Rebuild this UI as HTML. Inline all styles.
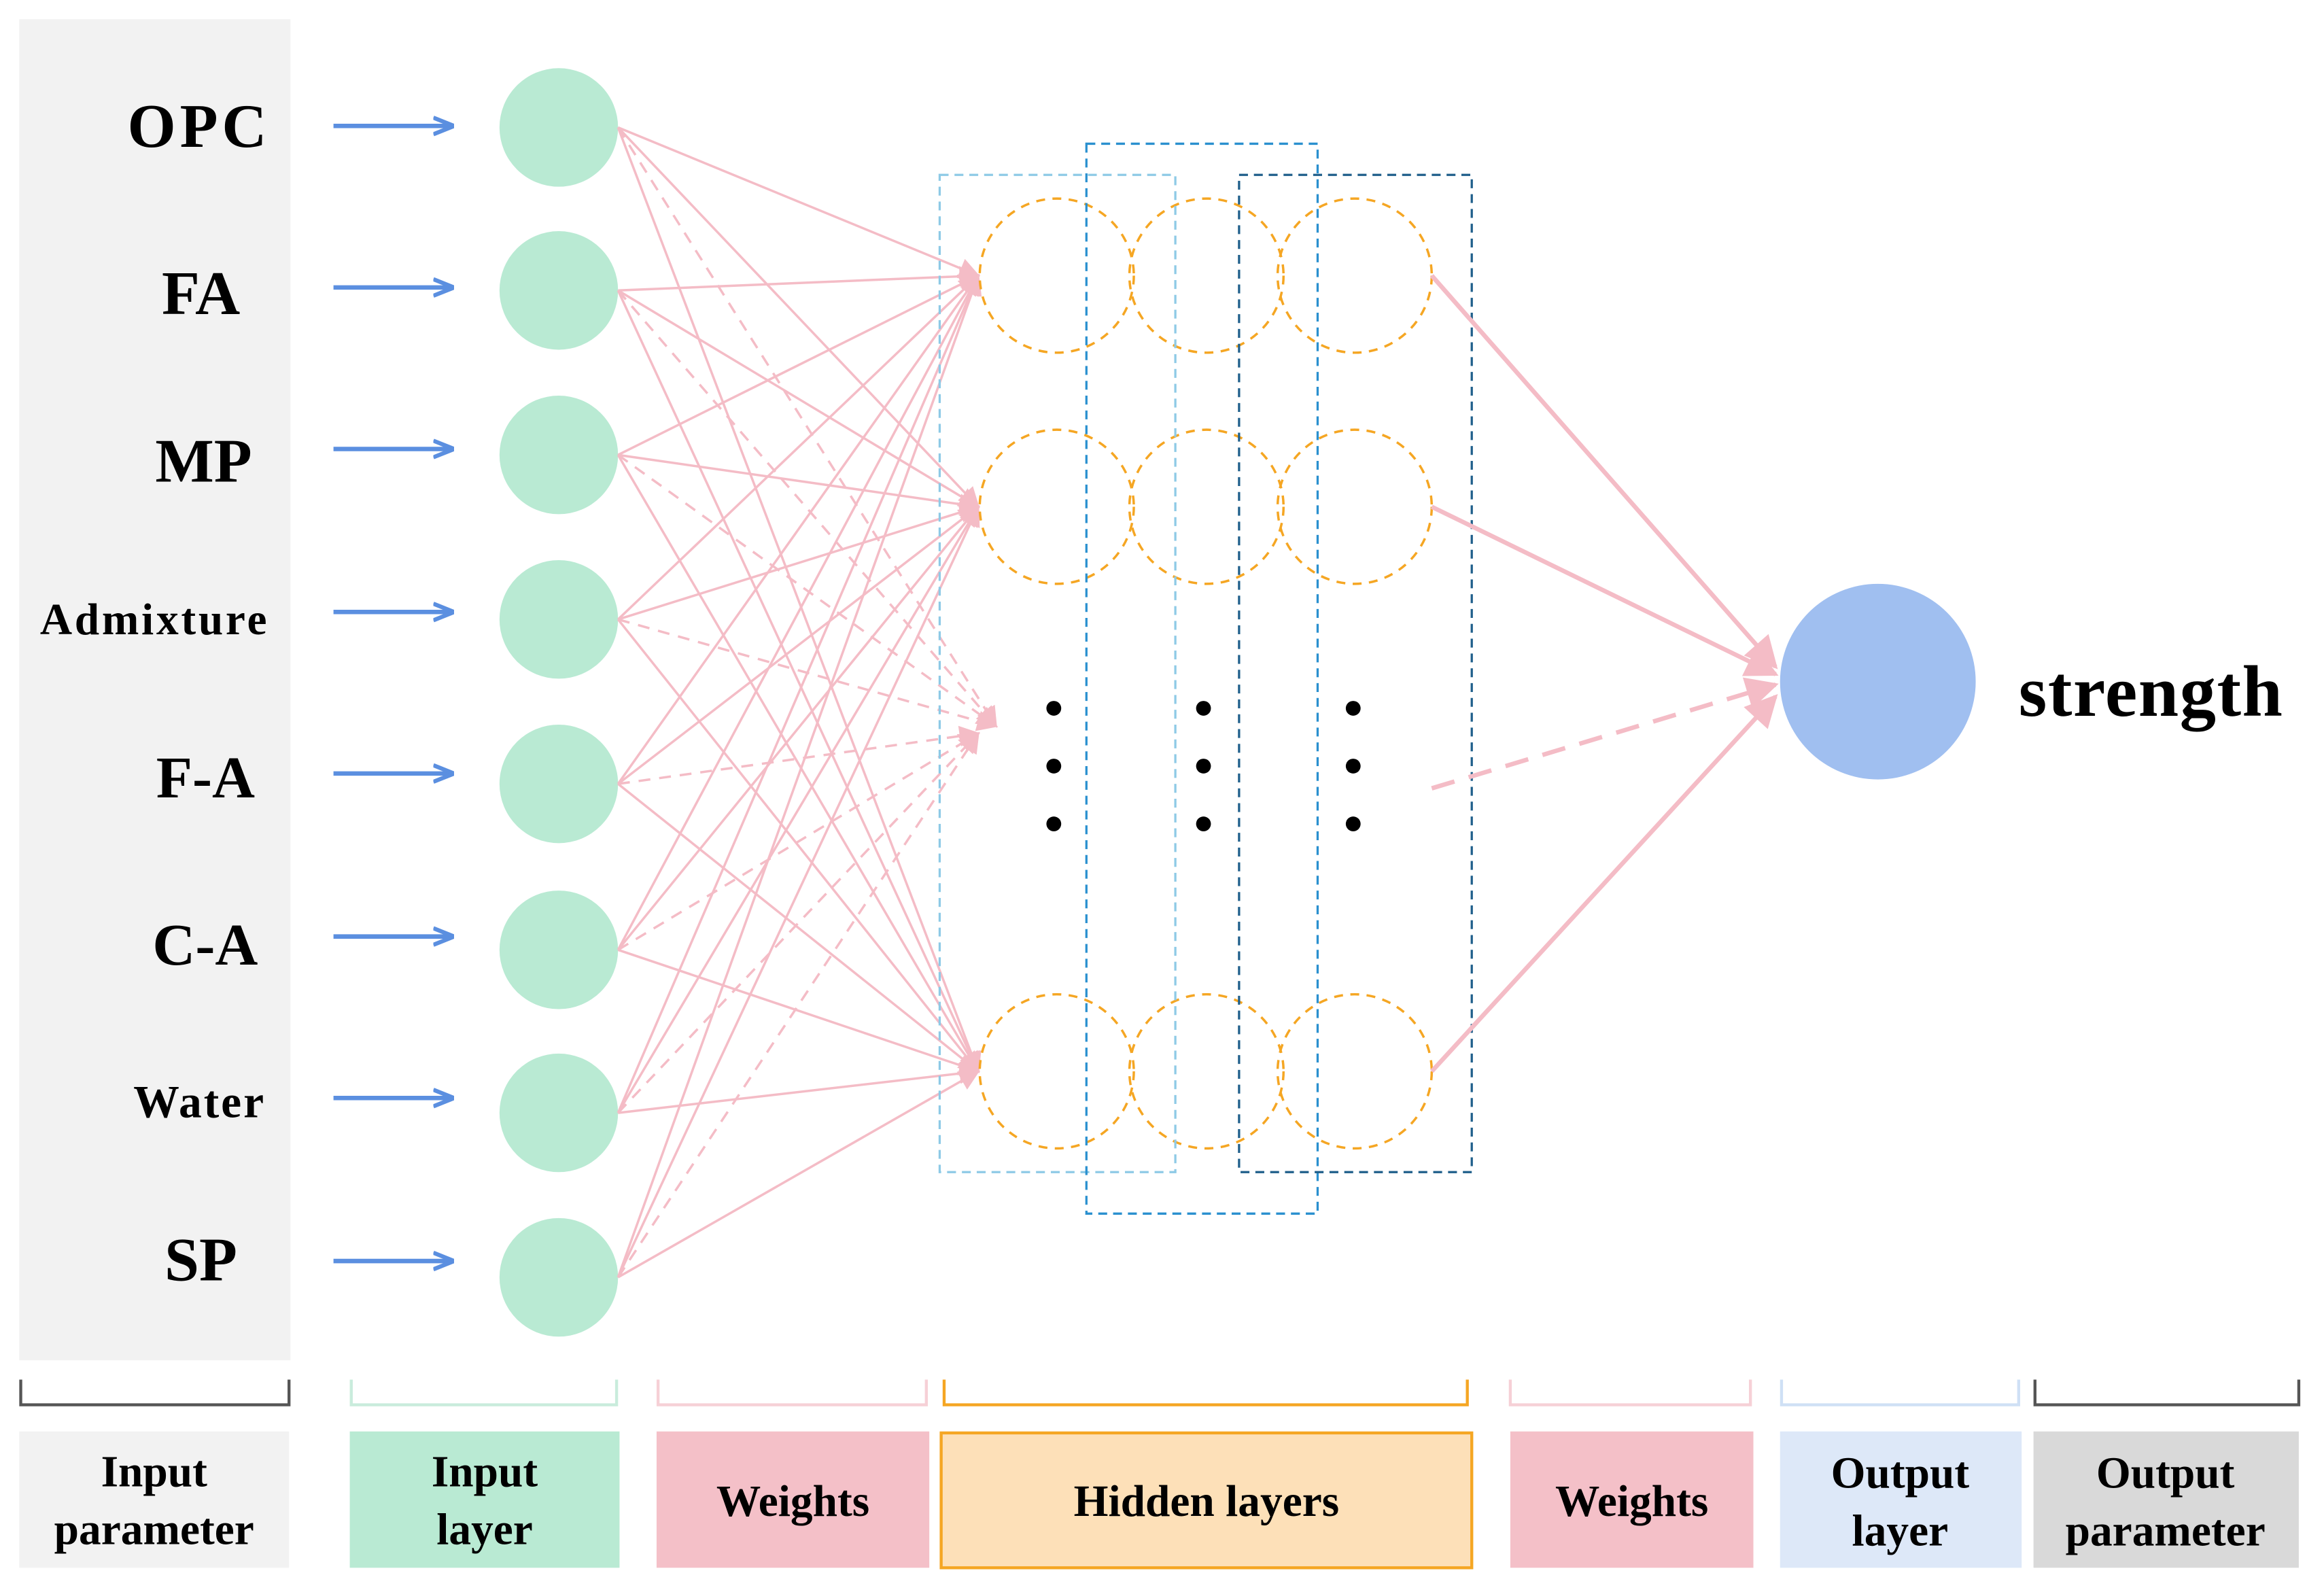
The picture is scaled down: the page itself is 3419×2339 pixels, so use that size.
<!DOCTYPE html>
<html><head><meta charset="utf-8"><style>
html,body{margin:0;padding:0;background:#fff;}
svg{display:block;}
text{font-family:"Liberation Serif",serif;font-weight:bold;fill:#000;}
</style></head><body>
<svg width="3419" height="2339" viewBox="0 0 1568 1073" preserveAspectRatio="none" xmlns="http://www.w3.org/2000/svg">
<defs>
<marker id="pa" viewBox="0 0 10 10" refX="9" refY="5" markerWidth="16" markerHeight="14" markerUnits="userSpaceOnUse" orient="auto"><path d="M0,0L10,5L0,10z" fill="#f4bcc6"/></marker>
<marker id="pb" viewBox="0 0 10 10" refX="9" refY="5" markerWidth="24" markerHeight="22" markerUnits="userSpaceOnUse" orient="auto"><path d="M0,0L10,5L0,10z" fill="#f4bcc6"/></marker>
<marker id="ba" viewBox="0 0 10 10" refX="9" refY="5" markerWidth="14" markerHeight="14" markerUnits="userSpaceOnUse" orient="auto"><path d="M0,1L10,5L0,9" fill="none" stroke="#5b8fe0" stroke-width="2"/></marker>
</defs>
<rect x="13" y="13" width="183" height="905" fill="#f2f2f2"/>
<g text-anchor="end">
<text x="180" y="99" font-size="42" textLength="94">OPC</text>
<text x="162" y="212" font-size="42">FA</text>
<text x="170" y="325" font-size="42">MP</text>
<text x="180" y="428" font-size="30" textLength="153">Admixture</text>
<text x="172" y="538" font-size="40">F-A</text>
<text x="174" y="651" font-size="40">C-A</text>
<text x="178" y="754" font-size="31" textLength="88">Water</text>
<text x="160" y="864" font-size="42">SP</text>
</g>
<g stroke="#5b8fe0" stroke-width="3" marker-end="url(#ba)">
<line x1="225" y1="85" x2="305" y2="85"/><line x1="225" y1="194" x2="305" y2="194"/>
<line x1="225" y1="303" x2="305" y2="303"/><line x1="225" y1="413" x2="305" y2="413"/>
<line x1="225" y1="522" x2="305" y2="522"/><line x1="225" y1="632" x2="305" y2="632"/>
<line x1="225" y1="741" x2="305" y2="741"/><line x1="225" y1="851" x2="305" y2="851"/>
</g>
<g fill="#b9ead3">
<circle cx="377" cy="86" r="40"/><circle cx="377" cy="196" r="40"/><circle cx="377" cy="307" r="40"/><circle cx="377" cy="418" r="40"/>
<circle cx="377" cy="529" r="40"/><circle cx="377" cy="641" r="40"/><circle cx="377" cy="751" r="40"/><circle cx="377" cy="862" r="40"/>
</g>
<g stroke="#f4bcc6" stroke-width="1.6" marker-end="url(#pa)" fill="none">
<line x1="417" y1="86" x2="660" y2="186"/><line x1="417" y1="86" x2="660" y2="342"/><line x1="417" y1="86" x2="660" y2="723"/>
<line x1="417" y1="196" x2="660" y2="186"/><line x1="417" y1="196" x2="660" y2="342"/><line x1="417" y1="196" x2="660" y2="723"/>
<line x1="417" y1="307" x2="660" y2="186"/><line x1="417" y1="307" x2="660" y2="342"/><line x1="417" y1="307" x2="660" y2="723"/>
<line x1="417" y1="418" x2="660" y2="186"/><line x1="417" y1="418" x2="660" y2="342"/><line x1="417" y1="418" x2="660" y2="723"/>
<line x1="417" y1="529" x2="660" y2="186"/><line x1="417" y1="529" x2="660" y2="342"/><line x1="417" y1="529" x2="660" y2="723"/>
<line x1="417" y1="641" x2="660" y2="186"/><line x1="417" y1="641" x2="660" y2="342"/><line x1="417" y1="641" x2="660" y2="723"/>
<line x1="417" y1="751" x2="660" y2="186"/><line x1="417" y1="751" x2="660" y2="342"/><line x1="417" y1="751" x2="660" y2="723"/>
<line x1="417" y1="862" x2="660" y2="186"/><line x1="417" y1="862" x2="660" y2="342"/><line x1="417" y1="862" x2="660" y2="723"/>
</g>
<g stroke="#f4bcc6" stroke-width="1.6" stroke-dasharray="8,6" marker-end="url(#pa)">
<line x1="417" y1="86" x2="672" y2="490"/><line x1="417" y1="196" x2="672" y2="490"/><line x1="417" y1="307" x2="672" y2="490"/>
<line x1="417" y1="418" x2="672" y2="490"/><line x1="417" y1="529" x2="660" y2="495"/><line x1="417" y1="641" x2="660" y2="495"/>
<line x1="417" y1="751" x2="660" y2="495"/><line x1="417" y1="862" x2="660" y2="495"/>
</g>
<g fill="none" stroke="#f5a623" stroke-width="1.6" stroke-dasharray="6,5">
<circle cx="713" cy="186" r="52"/><circle cx="814" cy="186" r="52"/><circle cx="914" cy="186" r="52"/>
<circle cx="713" cy="342" r="52"/><circle cx="814" cy="342" r="52"/><circle cx="914" cy="342" r="52"/>
<circle cx="713" cy="723" r="52"/><circle cx="814" cy="723" r="52"/><circle cx="914" cy="723" r="52"/>
</g>
<g fill="#000">
<circle cx="711" cy="478" r="5"/><circle cx="711" cy="517" r="5"/><circle cx="711" cy="556" r="5"/>
<circle cx="812" cy="478" r="5"/><circle cx="812" cy="517" r="5"/><circle cx="812" cy="556" r="5"/>
<circle cx="913" cy="478" r="5"/><circle cx="913" cy="517" r="5"/><circle cx="913" cy="556" r="5"/>
</g>
<g fill="none" stroke-width="1.5" stroke-dasharray="6,4">
<rect x="634" y="118" width="159" height="673" stroke="#8ecae6"/>
<rect x="733" y="97" width="156" height="722" stroke="#2a90cf"/>
<rect x="836" y="118" width="157" height="673" stroke="#1f5f8b"/>
</g>
<g stroke="#f4bcc6" stroke-width="3" marker-end="url(#pb)">
<line x1="966" y1="186" x2="1198" y2="450"/>
<line x1="966" y1="342" x2="1198" y2="455"/>
<line x1="966" y1="532" x2="1198" y2="462" stroke-dasharray="16,10"/>
<line x1="966" y1="723" x2="1198" y2="470"/>
</g>
<circle cx="1267" cy="460" r="66" fill="#a0bff0"/>
<text x="1362" y="483" font-size="49" textLength="178">strength</text>
<g fill="none" stroke-width="2">
<path d="M14,931V948H195V931" stroke="#555"/>
<path d="M237,931V948H416V931" stroke="#c9ecdc"/>
<path d="M444,931V948H625V931" stroke="#f6d0d6"/>
<path d="M637,931V948H990V931" stroke="#f5a623"/>
<path d="M1019,931V948H1181V931" stroke="#f6d0d6"/>
<path d="M1202,931V948H1362V931" stroke="#cfe0f5"/>
<path d="M1373,931V948H1551V931" stroke="#555"/>
</g>
<rect x="13" y="966" width="182" height="92" fill="#f2f2f2"/>
<rect x="236" y="966" width="182" height="92" fill="#b9ead3"/>
<rect x="443" y="966" width="184" height="92" fill="#f4c0c8"/>
<rect x="635" y="967" width="358" height="91" fill="#fde0b8" stroke="#f5a623" stroke-width="2"/>
<rect x="1019" y="966" width="164" height="92" fill="#f4c0c8"/>
<rect x="1201" y="966" width="163" height="92" fill="#dde8f8"/>
<rect x="1372" y="966" width="179" height="92" fill="#d9d9d9"/>
<g text-anchor="middle" font-size="30">
<text x="104" y="1003">Input</text><text x="104" y="1042">parameter</text>
<text x="327" y="1003">Input</text><text x="327" y="1042">layer</text>
<text x="535" y="1023">Weights</text>
<text x="814" y="1023">Hidden layers</text>
<text x="1101" y="1023">Weights</text>
<text x="1282" y="1004">Output</text><text x="1282" y="1043">layer</text>
<text x="1461" y="1004">Output</text><text x="1461" y="1043">parameter</text>
</g>
</svg>
</body></html>
